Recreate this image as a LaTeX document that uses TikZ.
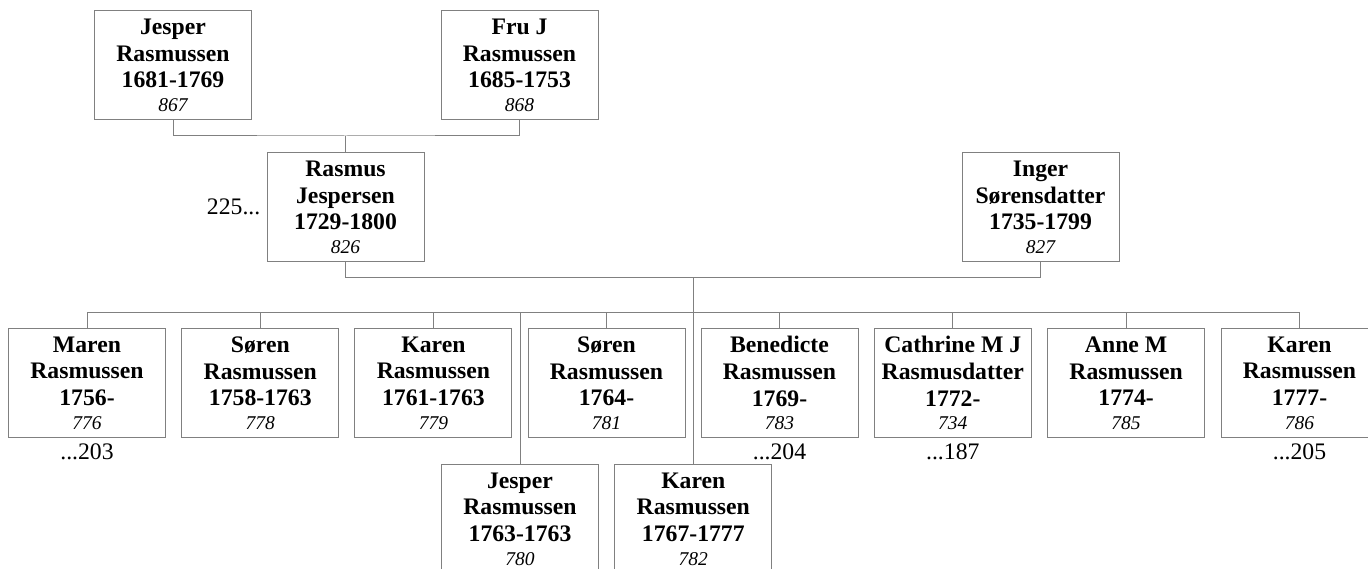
\documentclass[tikz,border=0pt]{standalone}
\usepackage{fontspec}
\setmainfont{Liberation Serif}
\usepackage{tikz}
\usepackage{xcolor}
\usetikzlibrary{positioning,calc}
\definecolor{boxgray}{RGB}{128,128,128}
\newcommand{\pnum}[1]{\\[-3pt]{\fontsize{19.5}{20}\selectfont\normalfont\itshape #1}}
\tikzset{
    person/.style={
        rectangle,
        draw=boxgray,
        fill=white,
        line width=1pt,
        minimum width=157pt,
        minimum height=109pt,
        inner sep=0pt,
        align=center,
        font=\fontsize{23.7}{26.6}\selectfont\bfseries
    },
    ref/.style={
        inner sep=0pt,
        font=\fontsize{23.7}{26.6}\selectfont
    },
    link/.style={draw=boxgray,line width=1pt}
}
\begin{document}
\begin{tikzpicture}[x=1pt,y=-1pt]
\useasboundingbox (0,0) rectangle (1368,569);

% grandparents
\node[person] (jesper) at (173,65.3) {Jesper\\Rasmussen\\1681-1769\pnum{867}};
\node[person] (fru) at (519.5,65.3) {Fru J\\Rasmussen\\1685-1753\pnum{868}};

% parents
\node[person] (rasmus) at (345.5,207.2) {Rasmus\\Jespersen\\1729-1800\pnum{826}};
\node[person] (inger) at (1040.5,207.2) {Inger\\Sørensdatter\\1735-1799\pnum{827}};
\node[ref, left=6pt of rasmus] (rasmusref) {225...};

% children
\node[person] (maren) at (87,383.1) {Maren\\Rasmussen\\1756-\pnum{776}};
\node[person] (soren) at (260.3,383.1) {Søren\\Rasmussen\\1758-1763\pnum{778}};
\node[person] (karen) at (433.4,383.1) {Karen\\Rasmussen\\1761-1763\pnum{779}};
\node[person] (soerenb) at (606.5,383.1) {Søren\\Rasmussen\\1764-\pnum{781}};
\node[person] (bene) at (779.5,383.1) {Benedicte\\Rasmussen\\1769-\pnum{783}};
\node[person] (cath) at (952.8,383.1) {Cathrine M J\\Rasmusdatter\\1772-\pnum{734}};
\node[person] (anne) at (1126.1,383.1) {Anne M\\Rasmussen\\1774-\pnum{785}};
\node[person] (kareny) at (1299.5,383.1) {Karen\\Rasmussen\\1777-\pnum{786}};

\node[person] (jesperb) at (520,519) {Jesper\\Rasmussen\\1763-1763\pnum{780}};
\node[person] (karenb) at (693.3,519) {Karen\\Rasmussen\\1767-1777\pnum{782}};

% descendants
\node[ref, below=5pt of maren] (marenref) {...203};
\node[ref, below=5pt of bene] (beneref) {...204};
\node[ref, below=5pt of cath] (cathref) {...187};
\node[ref, below=5pt of kareny] (karenyref) {...205};

% connectors
\coordinate (gp) at (345.5,136);
\coordinate (cp) at (693.3,277.3);
\coordinate (bar) at (693.3,312.5);

\draw[link] (jesper.south) |- (gp) -| (fru.south);
\draw[link] (gp) -- (rasmus.north);
\draw[link] (rasmus.south) |- (cp) -| (inger.south);
\draw[link] (cp) -- (bar);
\draw[link] (maren.north |- bar) -- (kareny.north |- bar);
\foreach \c in {maren,soren,karen,soerenb,bene,cath,anne,kareny,jesperb,karenb}
    \draw[link] (\c.north |- bar) -- (\c.north);
\end{tikzpicture}
\end{document}
